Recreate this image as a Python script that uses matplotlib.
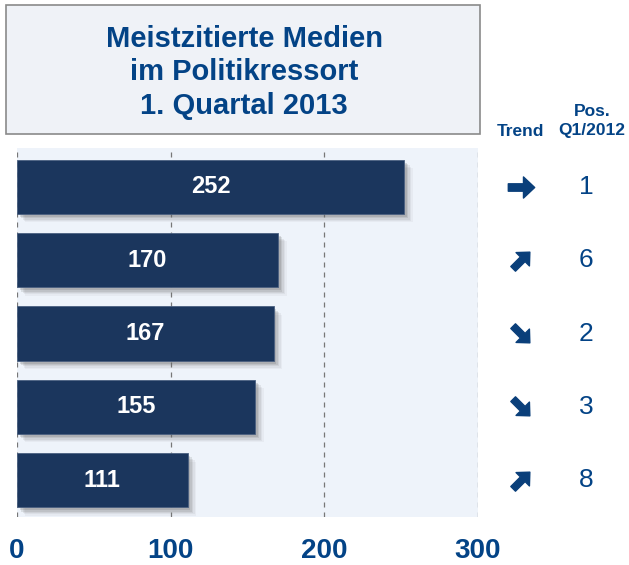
import matplotlib
matplotlib.use("Agg")
import matplotlib.pyplot as plt
import matplotlib.patheffects as pe
import matplotlib.transforms as mtransforms
from matplotlib.patches import Rectangle
from matplotlib.path import Path
from matplotlib.markers import MarkerStyle

plt.rcParams['font.family'] = ['Liberation Sans', 'DejaVu Sans']

values = [252, 170, 167, 155, 111]
trend_angles = [0, 45, -45, -45, 45]
positions = ['1', '6', '2', '3', '8']
xticks = [0, 100, 200, 300]
title = "Meistzitierte Medien\nim Politikressort\n1. Quartal 2013"

BAR = '#1b365d'
BLUE = '#034386'
BG = '#eef3fa'

fig = plt.figure(figsize=(6.29, 5.65), dpi=100)
ax = fig.add_axes([17/629, 1-517/565, 461/629, 369/565])
ax.set_facecolor(BG)
ypos = list(range(len(values)))

shadow = [pe.SimplePatchShadow(offset=(o, -o), shadow_rgbFace='#666666', alpha=a)
          for o, a in [(6, 0.06), (5, 0.08), (4, 0.11), (3, 0.15), (2, 0.2)]] + [pe.Normal()]
bars = ax.barh(ypos, values, height=0.74, color=BAR, edgecolor='#4a6080',
               linewidth=0.6, zorder=3)
for b in bars:
    b.set_path_effects(shadow)
for y, v in zip(ypos, values):
    ax.text(v/2, y, str(v), color='white', fontsize=17, fontweight='bold',
            ha='center', va='center', zorder=4)

ax.set_xlim(0, 300)
ax.set_ylim(4.5, -0.53)
for x in xticks:
    ax.axvline(x, color='#777777', linestyle=(0, (4, 4)), linewidth=0.9, zorder=1)
for s in ax.spines.values():
    s.set_visible(False)
ax.set_yticks([])
ax.set_xticks(xticks)
ax.set_xticklabels([str(x) for x in xticks], fontsize=20, fontweight='bold', color=BLUE)
ax.tick_params(axis='x', length=0, pad=15)

# heavy arrow glyph (pointing right), rotated per trend
arrow_path = Path([(-1.0, -0.28), (0.15, -0.28), (0.15, -0.8), (1.0, 0.0),
                   (0.15, 0.8), (0.15, 0.28), (-1.0, 0.28), (-1.0, -0.28)],
                  [Path.MOVETO] + [Path.LINETO] * 6 + [Path.CLOSEPOLY])

trans = mtransforms.blended_transform_factory(fig.transFigure, ax.transData)
for y, a, p in zip(ypos, trend_angles, positions):
    m = MarkerStyle(arrow_path, transform=mtransforms.Affine2D().rotate_deg(a))
    ax.plot([521/629], [y], marker=m, markersize=19 if a == 0 else 17,
            color='#0a3f7a', transform=trans, clip_on=False, linestyle='none')
    ax.text(586/629, y, p, transform=trans, fontsize=19, color=BLUE, ha='center',
            va='center', clip_on=False)

fig.text(592/629, 1-112/565, 'Pos.', fontsize=12.5, fontweight='bold', color=BLUE,
         ha='center', va='center')
fig.text(520/629, 1-131/565, 'Trend', fontsize=12.5, fontweight='bold', color=BLUE,
         ha='center', va='center')
fig.text(592/629, 1-131/565, 'Q1/2012', fontsize=12.5, fontweight='bold', color=BLUE,
         ha='center', va='center')

# title box
fig.patches.append(Rectangle((6/629, 1-134/565), 474/629, 129/565, transform=fig.transFigure,
                             facecolor='#eff2f7', edgecolor='#8a8a8a', linewidth=1.2))
fig.text(244/629, 1-72.5/565, title, fontsize=21, fontweight='bold', color=BLUE,
         ha='center', va='center', linespacing=1.26)

fig.savefig('out.png', dpi=100)
